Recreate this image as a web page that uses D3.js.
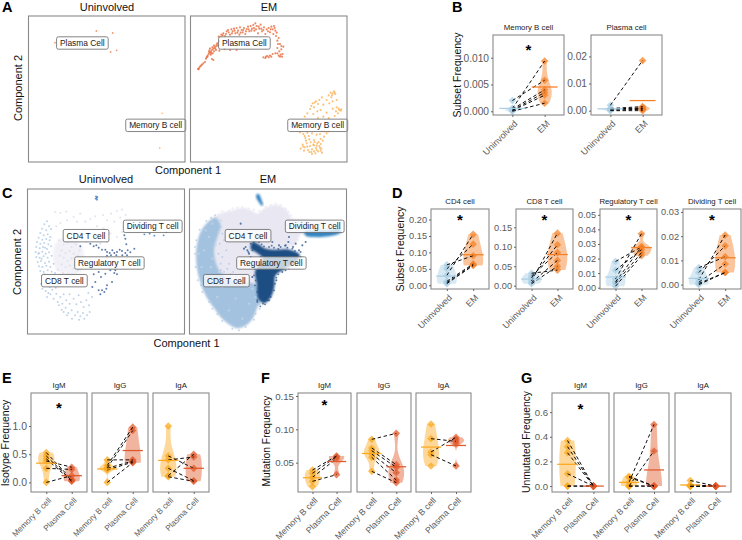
<!DOCTYPE html>
<html><head><meta charset="utf-8">
<script src="https://cdn.jsdelivr.net/npm/d3@7"></script>
<style>
html,body{margin:0;padding:0;background:#fff}
svg{display:block;font-family:"Liberation Sans",Arial,sans-serif}
</style></head><body><svg id="c" width="742" height="540"></svg>
<script>
// ---------- Scatter data (component coordinates) ----------
const plasmaEM=[[24,165],[27,162],[30,158],[36,152],[40,148],[45,144],[50,130],[53,125],[56,120],[60,116],[63,113],[66,108],[70,104],[74,100],[78,97],[62,122],[58,110],[68,118],[72,112],[78,108],[70,138],[66,135],[82,88],[88,82],[84,95],[88,110],[94,62],[100,58],[105,66],[110,52],[116,55],[120,62],[124,46],[128,52],[132,44],[136,58],[140,42],[144,50],[148,62],[150,40],[155,48],[158,55],[162,42],[166,60],[170,45],[174,38],[178,52],[182,36],[186,44],[190,33],[193,50],[196,28],[200,36],[204,58],[208,44],[212,32],[216,52],[222,40],[226,60],[230,46],[236,42],[240,55],[244,38],[248,46],[252,36],[256,50],[250,60],[258,66],[262,80],[266,72],[270,90],[274,96],[280,98],[262,102],[268,112],[272,122],[276,128],[266,125],[256,118],[248,120],[240,125],[232,126],[226,132],[220,130],[120,108],[104,105],[140,108],[26,166],[33,155],[48,134],[52,128],[57,114],[64,118],[60,104],[67,100],[72,95],[76,104],[80,92],[86,68],[92,70],[98,64],[108,60],[114,48],[126,58],[134,50],[142,56],[152,56],[160,48],[168,52],[176,46],[184,50],[192,42],[198,46],[206,38],[214,44],[220,48],[234,52],[242,46],[254,42],[260,56],[264,90],[274,106],[278,120],[270,128],[262,118],[244,128],[236,130],[228,128]];
const memoryEM=[[432,232],[428,238],[436,240],[422,236],[416,244],[424,250],[410,258],[396,250],[388,258],[378,262],[368,268],[372,280],[384,270],[400,272],[418,268],[428,262],[440,258],[360,285],[352,298],[344,308],[382,292],[392,288],[410,296],[428,284],[438,292],[446,284],[452,290],[444,298],[434,306],[400,308],[384,312],[370,300],[416,312],[390,360],[410,358],[402,368],[392,375],[380,362],[366,358],[352,356],[340,360],[330,355],[346,372],[358,376],[372,378],[386,384],[398,380],[338,392],[344,400],[332,404],[350,388],[360,396],[370,392],[378,402],[366,406],[354,408],[342,410],[388,396],[394,404],[384,412],[396,416],[376,418],[366,420],[358,414],[372,412],[392,390],[380,395],[362,385],[348,380],[404,352],[416,352],[395,350],[434,236],[426,244],[448,288],[454,286],[440,280],[374,266],[364,276],[372,394],[382,388],[390,402],[340,398],[352,398],[364,414],[380,408],[392,410],[374,384],[356,366],[344,366]];
const plasmaUninv=[[205,51],[254,57],[81,86],[248,114],[266,109]];
const memoryUninv=[[403,298],[395,402]];

const cd8Uninv=[[60,103],[52,112],[66,118],[45,125],[58,130],[72,126],[40,138],[50,145],[62,142],[35,152],[46,158],[58,156],[70,150],[30,165],[40,170],[52,168],[64,172],[28,180],[38,184],[48,180],[60,186],[72,178],[26,195],[36,198],[46,194],[56,200],[66,196],[28,210],[38,212],[50,208],[62,212],[74,206],[32,225],[42,222],[54,228],[66,224],[36,238],[46,240],[58,236],[70,240],[40,252],[50,255],[62,250],[74,254],[44,268],[52,262],[84,258],[68,300],[46,305],[56,312],[64,318],[76,308],[86,302],[52,296],[70,322],[88,320],[80,335],[92,345],[100,330],[110,322],[96,355],[106,350],[118,340],[104,368],[116,362],[128,350],[124,378],[134,370],[144,385],[152,375],[160,388],[168,378],[156,398],[172,395],[148,352],[162,345],[178,340],[186,355],[170,360],[188,375],[180,385],[195,330],[184,318],[120,385],[110,375],[135,395],[42,290],[60,330],[34,200],[44,215],[54,182],[68,160],[80,230],[92,292],[128,322],[140,335],[155,325]];
const cd4Uninv=[[85,75],[100,78],[118,74],[140,90],[160,80],[190,96],[228,84],[252,80],[270,72],[285,68],[296,84],[280,92],[262,104],[240,100],[205,88],[175,104],[150,104],[120,100],[100,108],[88,118],[96,160],[110,172],[122,166],[134,180],[146,172],[158,190],[104,190],[116,198],[128,192],[140,200],[152,206],[98,206],[110,212],[122,222],[134,214],[146,226],[104,232],[116,240],[128,236],[140,245],[152,250],[92,248],[108,258],[124,262],[136,270],[210,118],[230,125],[250,140],[270,150],[285,135],[310,120],[300,110],[240,165],[220,170],[200,150],[178,165],[190,130],[170,130]];
const tregUninv=[[190,170],[200,178],[208,175],[215,182],[225,188],[235,188],[240,195],[248,198],[256,190],[262,198],[270,195],[278,188],[285,192],[295,198],[302,190],[310,196],[322,185],[298,172],[295,155],[292,145],[300,205],[286,205],[268,205],[252,205],[240,206],[160,178],[200,262],[215,255],[235,260],[250,250],[262,258],[270,262],[265,250],[255,285],[222,270],[205,285],[238,305],[225,310],[232,315],[220,322],[240,295],[196,300],[215,310]];
const dividingUninv=[[352,142],[368,140],[382,146],[410,145],[418,135],[207,28],[209,33],[211,30],[206,35],[210,38]];

// Outlines of the dense EM cell clouds of panel C
const silhouetteEM=[[90,80],[110,75],[135,68],[165,63],[190,72],[205,80],[225,65],[250,55],[275,57],[295,72],[308,95],[345,125],[330,150],[320,170],[300,185],[330,205],[320,225],[285,245],[255,270],[250,300],[235,330],[218,348],[205,360],[190,395],[165,418],[140,422],[105,400],[75,362],[48,320],[30,270],[22,220],[25,170],[38,130],[58,105]];
const cd8OutlineEM=[[80,92],[58,105],[38,130],[25,170],[22,220],[30,270],[48,320],[75,362],[105,400],[140,422],[165,418],[190,395],[205,360],[216,335],[208,300],[195,290],[150,285],[110,270],[85,240],[75,190],[85,150],[95,115]];
const tregOutlineEM=[[190,165],[205,170],[230,185],[260,188],[300,188],[332,203],[320,226],[288,246],[260,265],[256,300],[246,330],[226,349],[208,336],[203,290],[198,255],[208,235],[222,215],[200,195],[185,185]];
const dividingOutlineEM=[[345,135],[380,130],[420,130],[452,124],[456,136],[420,148],[375,150],[350,146]];
const streakOutlineEM=[[203,22],[210,22],[216,35],[222,55],[218,56],[208,42],[202,32]];
const tailOutlineEM=[[305,100],[380,100],[450,110],[452,128],[380,132],[340,138],[318,120]];
const cd8Stipple=[[70,110],[90,135],[80,175],[70,215],[90,255],[120,282],[170,292],[190,305],[60,150],[45,190],[38,240],[55,285],[85,330],[120,370],[160,395],[180,350],[140,335],[100,300],[200,330],[66,240],[50,130],[30,200],[96,100],[110,285]];
const cd8Edge=[[95,120],[100,140],[92,170],[88,200],[95,230],[105,255],[125,272],[150,280],[180,282],[200,285],[105,160],[100,210],[115,245],[140,270],[170,276],[88,110],[78,85],[18,200],[20,240],[26,280],[40,315],[70,365],[100,402],[130,425],[170,420],[195,398],[22,160],[32,128],[52,102],[66,92],[110,150],[112,190],[120,230],[132,255],[158,268],[190,270],[210,352],[212,365],[200,380],[150,430],[85,382],[60,345],[36,295],[18,180],[125,262],[96,250]];
const cd4Edge=[[100,72],[130,64],[160,60],[195,68],[230,60],[260,50],[290,65],[305,85],[320,108],[335,122],[120,70],[145,62],[178,64],[212,72],[245,54],[275,54],[298,75],[312,98],[345,118],[338,138],[326,158],[312,176],[296,160],[300,135]];
const tregStipple=[[300,150],[320,170],[340,175],[175,190],[165,185],[155,110],[298,165],[290,175],[312,180],[330,190],[250,165],[270,175],[185,210],[195,240],[190,270],[205,340],[180,200],[350,165],[240,340],[262,280]];
const tregEdge=[[185,170],[195,165],[210,165],[225,178],[240,180],[255,182],[275,180],[295,182],[310,185],[335,195],[335,210],[325,230],[300,245],[280,255],[262,272],[258,290],[255,310],[245,330],[235,340],[222,350],[205,345],[205,315],[198,295],[195,265],[197,245],[205,225],[215,210],[190,190],[178,195],[170,180],[218,172],[248,176],[268,186],[288,176],[318,192],[268,262],[290,250],[200,280],[228,352],[214,358]];

const labelsA=[["Plasma Cell",163,87],["Memory B cell",383,334]];
const labelsC=[["Dividing T cell",377,118],["CD4 T cell",177,146],["Regulatory T cell",247,228],["CD8 T cell",112,281]];

// ---------- Frequency data, one value per donor (donor = index) ----------
const bMemoryUninvolved=[0.0020,0.0005,0.0004,0.0002,0.0001,0.0];
const bMemoryEM=[0.0058,0.0094,0.0040,0.0035,0.0030,0.0015];
const bPlasmaUninvolved=[0.0020,0.0008,0.0006,0.0005,0.0002,0.0];
const bPlasmaEM=[0.0185,0.0015,0.0010,0.0008,0.0005,0.0];

const dCD4Uninvolved=[0.030,0.050,0.062,0.012,0.008,0.005];
const dCD4EM=[0.155,0.125,0.090,0.065,0.062,0.060];
const dCD8Uninvolved=[0.012,0.020,0.025,0.032,0.008,0.005];
const dCD8EM=[0.135,0.105,0.085,0.040,0.065,0.050];
const dTregUninvolved=[0.006,0.004,0.018,0.012,0.003,0.001];
const dTregEM=[0.037,0.028,0.028,0.026,0.024,0.022];
const dDivUninvolved=[0.002,0.005,0.007,0.001,0.0005,0.0];
const dDivEM=[0.0205,0.016,0.0115,0.0085,0.005,0.005];

const eIgMMemory=[0.53,0.47,0.42,0.38,0.25,0.0];
const eIgMPlasma=[0.05,0.03,0.02,0.27,0.23,0.12];
const eIgGMemory=[0.30,0.26,0.40,0.25,0.22,0.0];
const eIgGPlasma=[0.98,0.92,0.40,0.38,0.36,0.35];
const eIgAMemory=[1.0,0.47,0.40,0.25,0.12,0.10];
const eIgAPlasma=[null,0.25,0.45,0.03,0.50,0.02];

const fIgMMemory=[0.039,0.034,0.028,0.022,0.014];
const fIgMPlasma=[0.060,0.059,0.056,0.032,null];
const fIgGMemory=[0.085,0.072,0.068,0.063,0.058,0.037];
const fIgGPlasma=[0.094,0.047,0.043,0.035,0.024,0.020];
const fIgAMemory=[0.108,0.086,0.066,0.062,0.045,null,null];
const fIgAPlasma=[null,0.082,0.088,0.045,null,0.085,0.079];

const gIgMMemory=[0.37,0.32,0.27,0.10,0,0];
const gIgMPlasma=[0,0,0,0,0,0];
const gIgGMemory=[0.08,0.07,0.03,0,0,0];
const gIgGPlasma=[0,0,0.5,0.285,0,0];
const gIgAMemory=[0.045,0.01,0,0,0,0];
const gIgAPlasma=[0,0,0,0,0,0];

const groupsTissue=["Uninvolved","EM"];
const groupsCell=["Memory B cell","Plasma Cell"];
const colorsTissue=["#A9CFE4","#F57F24"];
const colorsCell=["#FBA81F","#E0592A"];

const panels=[
 {t:"Memory B cell",g:groupsTissue,c:colorsTissue,a:bMemoryUninvolved,b:bMemoryEM,x:[493,564],y:[35,115],dom:[-0.0007,0.01425],ticks:[0,0.005,0.01],f:".3f",star:0.0118,w:.22,ty:10.2,tx:9},
 {t:"Plasma cell",g:groupsTissue,c:colorsTissue,a:bPlasmaUninvolved,b:bPlasmaEM,x:[591,662],y:[35,115],dom:[-0.0016,0.0279],ticks:[0,0.01,0.02],f:".2f",w:.22,ty:10.2,tx:9},
 {t:"CD4 cell",g:groupsTissue,c:colorsTissue,a:dCD4Uninvolved,b:dCD4EM,x:[431,489],y:[209,289],dom:[-0.0113,0.232],ticks:[0,0.05,0.1,0.15,0.2],f:".2f",star:0.205,w:.38,ty:9.2,tx:8.9},
 {t:"CD8 T cell",g:groupsTissue,c:colorsTissue,a:dCD8Uninvolved,b:dCD8EM,x:[516,573],y:[209,289],dom:[-0.0085,0.197],ticks:[0,0.05,0.1,0.15],f:".2f",star:0.173,w:.38,ty:9.2,tx:8.9},
 {t:"Regulatory T cell",g:groupsTissue,c:colorsTissue,a:dTregUninvolved,b:dTregEM,x:[600,657],y:[209,289],dom:[-0.0009,0.054],ticks:[0,0.01,0.02,0.03,0.04,0.05],f:".2f",star:0.0475,w:.38,ty:9.2,tx:8.9},
 {t:"Dividing T cell",g:groupsTissue,c:colorsTissue,a:dDivUninvolved,b:dDivEM,x:[683,741],y:[209,289],dom:[-0.0018,0.0312],ticks:[0,0.01,0.02,0.03],f:".2f",star:0.0275,w:.38,ty:9.2,tx:8.9},
 {t:"IgM",g:groupsCell,c:colorsCell,a:eIgMMemory,b:eIgMPlasma,x:[31,87],y:[393,492],dom:[-0.17,1.586],ticks:[0,0.5,1],f:".1f",star:1.35,w:.32,ty:10.4,tx:8.1},
 {t:"IgG",g:groupsCell,c:colorsCell,a:eIgGMemory,b:eIgGPlasma,x:[92,148],y:[393,492],dom:[-0.17,1.586],w:.32,tx:8.1},
 {t:"IgA",g:groupsCell,c:colorsCell,a:eIgAMemory,b:eIgAPlasma,x:[153,209],y:[393,492],dom:[-0.17,1.586],w:.32,tx:8.1},
 {t:"IgM",g:groupsCell,c:colorsCell,a:fIgMMemory,b:fIgMPlasma,x:[298,351],y:[393,492],dom:[0.006,0.1545],ticks:[0.05,0.1,0.15],f:".2f",star:0.139,w:.32,ty:9.7,tx:8.7},
 {t:"IgG",g:groupsCell,c:colorsCell,a:fIgGMemory,b:fIgGPlasma,x:[357,411],y:[393,492],dom:[0.006,0.1545],w:.32,tx:8.7},
 {t:"IgA",g:groupsCell,c:colorsCell,a:fIgAMemory,b:fIgAPlasma,x:[416,471],y:[393,492],dom:[0.006,0.1545],w:.32,tx:8.7},
 {t:"IgM",g:groupsCell,c:colorsCell,a:gIgMMemory,b:gIgMPlasma,x:[552,609],y:[393,492],dom:[-0.048,0.755],ticks:[0,0.2,0.4,0.6],f:".1f",star:0.645,w:.32,ty:9.6,tx:8.5},
 {t:"IgG",g:groupsCell,c:colorsCell,a:gIgGMemory,b:gIgGPlasma,x:[614,669],y:[393,492],dom:[-0.048,0.755],w:.32,tx:8.5},
 {t:"IgA",g:groupsCell,c:colorsCell,a:gIgAMemory,b:gIgAPlasma,x:[675,731],y:[393,492],dom:[-0.048,0.755],w:.32,tx:8.5}
];

const svg=d3.select("#c");
const BORDER="#8a8a8a", TICKTXT="#5a5a5a";
function text(x,y,s,o={}){
  const t=svg.append("text").attr("x",x).attr("y",y).text(s)
   .attr("text-anchor",o.anchor||"middle").attr("font-size",o.size||11)
   .attr("fill",o.fill||"#111").attr("font-weight",o.weight||"normal");
  if(o.rot!=null)t.attr("transform",`rotate(${o.rot},${x},${y})`);
  return t;
}
[["A",2,12],["B",452,12],["C",2,198],["D",392,198],["E",2,383],["F",261,383],["G",521,383]]
 .forEach(d=>text(d[1],d[2],d[0],{anchor:"start",size:14.5,weight:"bold",fill:"#000"}));
const defs=svg.append("defs");
defs.append("filter").attr("id","soft").append("feGaussianBlur").attr("stdDeviation",1.3);
defs.append("filter").attr("id","soft2").append("feGaussianBlur").attr("stdDeviation",0.4);

function umapPanel(ox,oy,pl,pt,pw,ph){
  const x=d3.scaleLinear().domain([0,480]).range([ox,ox+160]);
  const y=d3.scaleLinear().domain([0,450]).range([oy,oy+150]);
  return {x,y,frame(){svg.append("rect").attr("x",pl).attr("y",pt).attr("width",pw).attr("height",ph).attr("fill","none").attr("stroke",BORDER).attr("stroke-width",1.1);}};
}
function dots(p,data,color,r,op){
  svg.append("g").attr("filter","url(#soft2)").selectAll("circle").data(data).join("circle")
   .attr("cx",d=>p.x(d[0])).attr("cy",d=>p.y(d[1])).attr("r",r).attr("fill",color).attr("opacity",op);
}
function cloud(p,data,color,op){
  const line=d3.line().x(d=>p.x(d[0])).y(d=>p.y(d[1])).curve(d3.curveCatmullRomClosed.alpha(.5));
  svg.append("path").attr("d",line(data)).attr("fill",color).attr("opacity",op).attr("filter","url(#soft)");
}
function labels(p,list,fo){
  list.forEach(l=>{
    const g=svg.append("g");
    const t=g.append("text").attr("x",p.x(l[1])).attr("y",p.y(l[2])).attr("dy","0.35em").attr("text-anchor","middle").attr("font-size",8.4).attr("fill","#222").text(l[0]);
    const b=t.node().getBBox();
    g.insert("rect","text").attr("x",b.x-3.4).attr("y",p.y(l[2])-6.2).attr("width",b.width+6.8).attr("height",12.4).attr("rx",1.8)
     .attr("fill","#fff").attr("fill-opacity",fo).attr("stroke","#666").attr("stroke-width",.8);
  });
}

// Panel A
const aL=umapPanel(28,14,28.5,16,156.5,146), aR=umapPanel(190,14,190.5,16,156.5,146);
dots(aL,plasmaUninv,"#EE8050",.9,.8); dots(aL,memoryUninv,"#FBB560",.9,.8);
dots(aR,plasmaEM,"#E8693A",1.05,.8); dots(aR,memoryEM,"#FBB45C",1.05,.85);
labels(aL,labelsA,.82); labels(aR,labelsA,.82);
aL.frame(); aR.frame();
text(107,11,"Uninvolved"); text(269,11,"EM"); text(188,174,"Component 1");
text(22,88,"Component 2",{rot:-90});

// Panel C
const cL=umapPanel(27,187,27.5,189,157,145), cR=umapPanel(189,187,189.5,189,157,145);
cloud(cL,[[85,170],[125,150],[165,180],[165,250],[120,270],[85,240]],"#E9E8F3",.6);
dots(cL,cd4Uninv,"#DEDDEC",1.1,.8);
dots(cL,cd8Uninv,"#AFC9E4",1.0,.8);
dots(cL,tregUninv,"#3A5E96",1.0,.8);
dots(cL,dividingUninv,"#3B7FBD",.95,.85);
cloud(cR,silhouetteEM,"#E8E7F2",1);
cloud(cR,tailOutlineEM,"#E8E7F2",1);
dots(cR,cd4Edge,"#E8E7F2",1.1,.7);
cloud(cR,cd8OutlineEM,"#A3C2DF",1);
dots(cR,cd8Edge,"#A8C5E1",1.0,.65);
dots(cR,cd8Stipple,"#C4D6EA",1.2,.7);
cloud(cR,tregOutlineEM,"#1E4E83",1);
dots(cR,tregEdge,"#1E4E83",.95,.7);
dots(cR,tregStipple,"#2F5C92",1.05,.8);
cloud(cR,dividingOutlineEM,"#3585C2",1);
cloud(cR,streakOutlineEM,"#2F80C0",1);
labels(cL,labelsC,.82); labels(cR,labelsC,.74);
cL.frame(); cR.frame();
text(106,183,"Uninvolved"); text(268,183,"EM"); text(186.5,347,"Component 1");
text(21,262,"Component 2",{rot:-90});

// Violin panels
function kde(vals,steps){
  const v=vals.slice().sort(d3.ascending),n=v.length;
  const sd=d3.deviation(v)||0;
  if(sd===0)return null;
  const iqr=d3.quantile(v,.75)-d3.quantile(v,.25);
  let lo=Math.min(sd,iqr/1.34); if(!lo)lo=sd;
  const bw=1.35*lo*Math.pow(n,-.2);
  const a=v[0],b=v[n-1];
  const grid=d3.range(steps+1).map(i=>a+(b-a)*i/steps);
  return grid.map(y=>[y,d3.mean(v,d=>Math.exp(-.5*((y-d)/bw)**2))]);
}
panels.forEach(p=>{
  const W=p.x[1]-p.x[0];
  const x=d3.scalePoint().domain(p.g).range(p.x).padding(.6);
  const unit=x(p.g[1])-x(p.g[0]);
  const y=d3.scaleLinear().domain(p.dom).range([p.y[1],p.y[0]]);
  const g=svg.append("g");
  [p.a,p.b].forEach((arr,i)=>{
    const vals=arr.filter(d=>d!=null);
    const den=kde(vals,60);
    const cx=x(p.g[i]);
    if(den){
      const m=d3.max(den,d=>d[1]);
      const hw=d3.scaleLinear().domain([0,m]).range([0,p.w*unit]);
      const area=d3.area().y(d=>y(d[0])).x0(d=>cx-hw(d[1])).x1(d=>cx+hw(d[1])).curve(d3.curveBasis);
      g.append("path").attr("d",area(den)).attr("fill",p.c[i]).attr("opacity",.45);
    }
    g.append("g").attr("filter","url(#soft2)").selectAll("path").data(vals).join("path")
     .attr("d",d3.symbol(d3.symbolSquare,29)())
     .attr("transform",d=>`translate(${cx},${y(d)}) rotate(45)`)
     .attr("fill",p.c[i]).attr("opacity",.72);
  });
  p.a.forEach((v,i)=>{
    const u=p.b[i];
    if(v==null||u==null)return;
    g.append("line").attr("x1",x(p.g[0])).attr("x2",x(p.g[1])).attr("y1",y(v)).attr("y2",y(u))
     .attr("stroke","#000").attr("stroke-width",.95).attr("stroke-dasharray","3.5,2.6");
  });
  [p.a,p.b].forEach((arr,i)=>{
    const m=d3.mean(arr), cx=x(p.g[i]);
    g.append("line").attr("x1",cx-.4*unit).attr("x2",cx+.4*unit).attr("y1",y(m)).attr("y2",y(m))
     .attr("stroke",p.c[i]).attr("stroke-width",1.25);
  });
  g.append("rect").attr("x",p.x[0]).attr("y",p.y[0]).attr("width",W).attr("height",p.y[1]-p.y[0]).attr("fill","none").attr("stroke",BORDER).attr("stroke-width",1.1);
  text((p.x[0]+p.x[1])/2,p.y[0]-5.5,p.t,{size:7.8,fill:"#222"});
  if(p.star!=null) text((p.x[0]+p.x[1])/2,y(p.star)+7,"*",{size:15,fill:"#000",weight:"bold"});
  if(p.ticks){
    const ax=g.append("g").attr("transform",`translate(${p.x[0]},0)`)
     .call(d3.axisLeft(y).tickValues(p.ticks).tickFormat(d3.format(p.f)).tickSize(2).tickPadding(2));
    ax.select(".domain").remove();
    ax.selectAll("line").attr("stroke","#666");
    ax.selectAll("text").attr("font-size",p.ty).attr("fill",TICKTXT).attr("font-family","Liberation Sans");
  }
  const bx=g.append("g").attr("transform",`translate(0,${p.y[1]})`)
    .call(d3.axisBottom(x).tickSize(2));
  bx.select(".domain").remove();
  bx.selectAll("line").attr("stroke","#666");
  bx.selectAll("text").attr("font-size",p.tx).attr("fill",TICKTXT).attr("font-family","Liberation Sans")
    .attr("text-anchor","end").attr("x",0).attr("y",0).attr("dy","0.35em").attr("transform","translate(3,7) rotate(-45)");
});
text(461,75,"Subset Frequency",{rot:-90,size:10.5});
text(404,249,"Subset Frequency",{rot:-90,size:10.5});
text(9,443,"Isotype Frequency",{rot:-90,size:10.5});
text(270,441,"Mutation Frequency",{rot:-90,size:10.3});
text(530,442,"Unmutated Frequency",{rot:-90,size:10.3});
</script></body></html>
